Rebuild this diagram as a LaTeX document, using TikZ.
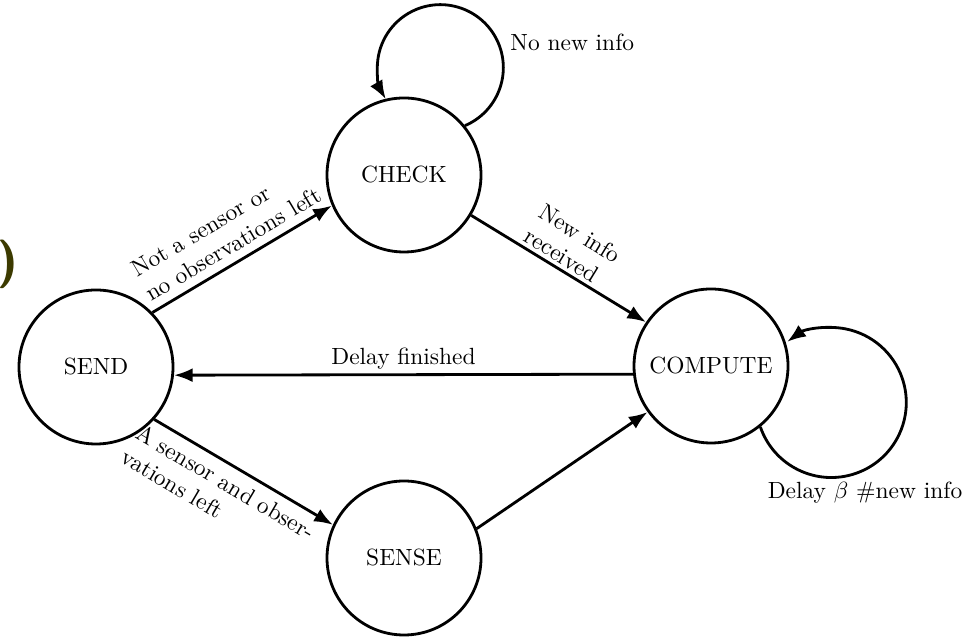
\documentclass[tikz,border=0pt]{standalone}
\usetikzlibrary{arrows.meta}
\definecolor{olivedark}{RGB}{60,58,0}
\begin{document}
\begin{tikzpicture}[x=0.015cm,y=0.015cm,
  state/.style={circle,draw,line width=1.2pt,minimum size=2.31cm,inner sep=0pt},
  edge/.style={line width=1.2pt,-{Latex[length=8pt,width=6pt]}},
  lbl/.style={sloped,align=left}]
\useasboundingbox (0,0) rectangle (972,638);
\node[state] (SEND) at (96,271) {SEND};
\node[state] (CHECK) at (404,463) {CHECK};
\node[state] (COMPUTE) at (711,272) {COMPUTE};
\node[state] (SENSE) at (404,80) {SENSE};
\draw[edge] (SEND.44) -- node[lbl,above] {Not a sensor or\\no observations left} (CHECK.203);
\draw[edge] (CHECK.-31) -- node[lbl,above,inner sep=1.5pt] {New info\\received} (COMPUTE.146);
\draw[edge] (COMPUTE.186) -- node[above,inner sep=1.5pt] {Delay finished} (SEND.-6);
\draw[edge] (SEND.-42) -- node[lbl,below,pos=0.45] {A sensor and obser-\\vations left} (SENSE.155);
\draw[edge] (SENSE.22) -- (COMPUTE.216);
\draw[edge] (CHECK.39) arc[start angle=-67,end angle=210,radius=63];
\draw[edge] (COMPUTE.-51) arc[start angle=199,end angle=486,radius=75];
\node[anchor=west,inner sep=0pt] (nonew) at (510,596) {No new info};
\node (delay) at (865,145) {Delay $\beta$ \#new info};
\node[text=olivedark,font=\sffamily\bfseries\huge,inner sep=0pt] (paren) at (8,374) {)};
\end{tikzpicture}
\end{document}
